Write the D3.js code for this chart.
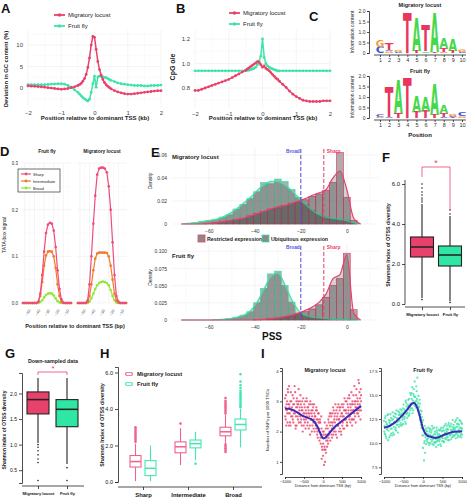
<!DOCTYPE html>
<html><head><meta charset="utf-8">
<script src="https://cdn.jsdelivr.net/npm/d3@7"></script>
<style>body{margin:0;background:#fff}svg{display:block}</style>
</head><body>
<svg id="fig" width="467" height="502"></svg>
<script>
// ---------------- DATA ----------------
// Panel A/B: position (kb) relative to dominant TSS
const posA=[-2,-1.9,-1.8,-1.7,-1.6,-1.5,-1.4,-1.3,-1.2,-1.1,-1,-0.9,-0.8,-0.7,-0.6,-0.5,-0.45,-0.4,-0.35,-0.3,-0.25,-0.2,-0.15,-0.1,-0.05,0,0.05,0.1,0.15,0.2,0.25,0.3,0.35,0.4,0.45,0.5,0.6,0.7,0.8,0.9,1,1.1,1.2,1.3,1.4,1.5,1.6,1.7,1.8,1.9,2];
const kbTicks=[-2,-1,0,1,2];
const gcLocust=[0.5,0.45,0.4,0.35,0.3,0.2,0.1,0.0,-0.1,-0.2,-0.3,-0.2,-0.1,0.1,0.3,0.6,0.8,1.1,1.6,2.2,3.2,4.8,7.0,10.0,12.0,11.8,9.0,6.2,4.3,3.0,2.0,1.3,0.8,0.4,0.1,-0.2,-0.6,-0.9,-1.1,-1.3,-1.4,-1.4,-1.3,-1.2,-1.1,-1.0,-0.9,-0.8,-0.7,-0.6,-0.6];
const gcFly=[0.8,0.8,0.8,0.8,0.8,0.8,0.85,0.9,0.95,1.0,1.0,0.9,0.6,0.2,-0.4,-1.0,-1.4,-1.8,-2.2,-2.5,-2.8,-3.0,-2.6,-1.0,1.0,2.8,0.2,2.6,2.8,2.7,2.6,2.5,2.4,2.2,2.0,1.8,1.5,1.2,1.0,0.9,0.8,0.7,0.6,0.6,0.6,0.5,0.5,0.6,0.6,0.6,0.7];
const cpgLocust=[0.78,0.78,0.79,0.80,0.81,0.82,0.83,0.84,0.85,0.86,0.87,0.885,0.90,0.915,0.93,0.945,0.955,0.965,0.975,0.985,0.995,1.005,1.015,1.01,0.99,0.97,0.98,0.96,0.95,0.94,0.925,0.91,0.895,0.88,0.87,0.855,0.83,0.805,0.775,0.75,0.73,0.715,0.70,0.695,0.69,0.69,0.69,0.69,0.695,0.695,0.695];
const cpgFly=[0.94,0.94,0.94,0.94,0.94,0.94,0.94,0.94,0.94,0.94,0.94,0.94,0.94,0.94,0.94,0.94,0.945,0.945,0.95,0.955,0.96,0.97,0.99,1.02,1.06,1.2,1.05,1.0,0.98,0.97,0.96,0.955,0.95,0.945,0.94,0.94,0.94,0.94,0.94,0.94,0.94,0.94,0.94,0.94,0.94,0.94,0.94,0.94,0.94,0.94,0.94];
const speciesNames=["Migratory locust","Fruit fly"];

// Panel C: sequence logos, per position stack [letter, bits] bottom->top
const logoLocust=[[["C",0.3],["G",0.33]],[["G",0.08],["C",0.08],["T",0.33]],[["C",0.05],["G",0.1]],[["T",1.9]],[["T",0.1],["A",1.55]],[["A",0.08],["T",1.25]],[["T",0.05],["A",1.85]],[["G",0.05],["T",0.2],["A",0.5]],[["T",0.1],["A",0.55]],[["C",0.05],["G",0.12]]];
const logoFly=[[["G",0.05],["C",0.12]],[["C",0.03],["T",1.43]],[["T",0.22],["A",1.55]],[["T",1.9]],[["T",0.3],["A",0.75]],[["T",0.35],["A",0.65]],[["T",0.15],["A",1.5]],[["C",0.05],["T",0.2],["A",0.35]],[["T",0.05],["C",0.05],["G",0.1]],[["G",0.08],["C",0.15]]];
const logoPositions=[1,2,3,4,5,6,7,8,9,10];

// Panel D: TATA-box signal
const posD=[-52,-50,-48,-46,-44,-42,-40,-38,-36,-34,-32,-30,-28,-26,-24,-22,-20,-18,-16,-14,-12,-10,-8,-6,-4,-2];
const dTicks=[-50,-40,-30,-20,-10];
const flySharp=[0,0,0,0,0,0,0,0,0.003,0.02,0.06,0.11,0.15,0.168,0.172,0.17,0.155,0.12,0.07,0.03,0.008,0.001,0,0,0,0];
const flyInter=[0,0,0,0,0,0,0,0,0.002,0.015,0.045,0.08,0.102,0.11,0.111,0.11,0.1,0.075,0.04,0.015,0.003,0,0,0,0,0];
const flyBroad=[0,0,0,0,0,0,0,0,0,0.002,0.006,0.012,0.017,0.02,0.021,0.02,0.016,0.01,0.004,0.001,0,0,0,0,0,0];
const locSharp=[0,0,0,0,0,0.005,0.04,0.1,0.17,0.23,0.275,0.288,0.29,0.29,0.288,0.28,0.25,0.2,0.13,0.06,0.015,0.003,0,0,0,0];
const locInter=[0,0,0,0,0,0.002,0.015,0.04,0.07,0.095,0.106,0.108,0.108,0.108,0.108,0.107,0.1,0.08,0.05,0.02,0.005,0.001,0,0,0,0];
const locBroad=[0,0,0,0,0,0,0.003,0.01,0.02,0.03,0.038,0.043,0.045,0.046,0.045,0.043,0.038,0.028,0.015,0.006,0.001,0,0,0,0,0];
const shapeNames=["Sharp","Intermediate","Broad"];

// Panel E: PSS histograms (bin centres, width 3)
const binsE=[-72,-69,-66,-63,-60,-57,-54,-51,-48,-45,-42,-39,-36,-33,-30,-27,-24,-21,-18,-15,-12,-9,-6,-3,0,3,6];
const locUbiq=[0,0.0005,0.001,0.002,0.003,0.004,0.006,0.008,0.013,0.017,0.022,0.028,0.036,0.035,0.039,0.037,0.030,0.023,0.017,0.012,0.008,0.006,0.004,0.004,0.003,0.0005,0];
const locRestr=[0,0,0,0,0.0005,0.001,0.002,0.003,0.004,0.005,0.007,0.009,0.011,0.013,0.014,0.016,0.018,0.019,0.021,0.024,0.026,0.029,0.036,0.062,0.023,0.003,0];
const locUbiqDens=[0,0.0005,0.001,0.002,0.003,0.004,0.006,0.009,0.013,0.018,0.023,0.029,0.034,0.037,0.037,0.034,0.029,0.023,0.017,0.012,0.008,0.006,0.005,0.004,0.003,0.001,0];
const locRestrDens=[0,0,0,0,0.0005,0.001,0.002,0.003,0.004,0.005,0.007,0.009,0.011,0.013,0.015,0.016,0.018,0.02,0.022,0.025,0.027,0.03,0.04,0.046,0.03,0.005,0];
const flyUbiq=[0,0,0,0,0,0.0005,0.001,0.002,0.004,0.007,0.012,0.025,0.046,0.067,0.071,0.05,0.026,0.01,0.005,0.003,0.002,0.002,0.001,0.001,0.0005,0,0];
const flyRestr=[0,0,0,0,0,0,0,0,0,0,0,0.0005,0.001,0.002,0.003,0.004,0.006,0.009,0.012,0.016,0.022,0.033,0.05,0.06,0.097,0.015,0];
const flyUbiqDens=[0,0,0,0,0,0.0005,0.001,0.002,0.004,0.007,0.013,0.026,0.045,0.063,0.068,0.052,0.03,0.014,0.007,0.004,0.003,0.002,0.001,0.001,0.0005,0,0];
const flyRestrDens=[0,0,0,0,0,0,0,0,0,0,0,0.0005,0.001,0.002,0.003,0.005,0.007,0.01,0.014,0.019,0.026,0.038,0.06,0.066,0.095,0.01,0];
const cutoffs=[{name:"Broad",v:-20},{name:"Sharp",v:-10}];

// Panel F/G boxplots: [low whisker, q1, median, q3, high whisker]
const boxF=[[0.3,2.35,2.85,3.35,5.0],[0.15,1.9,2.45,2.9,4.4]];
const outF=[[5.1,5.2,5.3,5.45,5.6,5.8,6.0,0.22],[4.5,4.7,0.08]];
const boxG=[[1.03,1.6,1.88,2.03,2.3],[0.62,1.35,1.69,1.88,2.3]];
const outG=[[1.0,0.95,0.88,0.8,0.72,0.65,0.3],[0.55,0.3]];
// Panel H: by TSC shape class
const boxHLocust=[[0.05,0.82,1.12,1.45,2.1],[0.93,1.6,1.93,2.2,2.95],[2.1,2.53,2.75,3.0,3.68]];
const boxHFly=[[0.05,0.35,0.75,1.17,2.0],[1.2,1.87,2.1,2.3,2.75],[1.9,2.85,3.15,3.45,4.0]];
const outHLocust=[[2.2,2.3,2.4,2.5,2.6,2.7,2.8,2.9,3.0],[3.2],[3.75,3.85,3.95,4.05,4.15,4.25,4.35,4.45,4.6,2.05,1.95,1.85,1.75,1.65]];
const outHFly=[[],[1.0],[4.1,4.2,4.3,4.4,4.5,4.6,4.7,4.8,4.9,5.0,5.15,5.3,5.5,5.9]];

// Panel I: SNP density, three interleaved rows (x step 20 bp)
const snpLoc1=[3.1,2.4,2.9,2.6,3.3,2.2,2.8,3.0,2.5,2.7,3.2,2.3,2.9,2.6,2.1,3.0,2.8,2.4,3.4,2.6,2.5,2.9,2.2,2.7,3.1,2.4,2.8,2.1,2.6,3.0,2.3,2.7,2.5,1.9,2.9,2.6,2.2,2.8,2.4,2.0,2.5,2.1,2.7,1.8,2.3,2.0,2.4,1.6,2.1,1.4,1.2,2.0,1.5,1.9,1.3,2.2,1.7,2.4,1.9,2.6,2.0,2.5,1.8,2.3,2.7,2.1,2.6,1.9,2.4,2.8,2.2,2.0,2.7,2.5,1.9,2.6,2.3,2.9,2.1,2.7,2.4,3.0,2.2,2.8,2.5,3.1,2.3,2.7,2.9,2.4,3.2,2.6,2.9,2.3,3.4,2.7,3.0,2.5,3.3,2.8,3.0];
const snpLoc2=[2.5,3.2,2.7,2.3,2.9,3.5,2.6,2.2,3.0,2.8,2.4,3.1,2.7,3.3,2.5,2.2,2.9,3.0,2.3,2.8,3.2,2.4,2.8,2.0,2.6,2.9,2.3,2.7,3.1,2.2,2.8,2.1,2.6,3.0,2.4,2.0,2.7,2.3,2.9,2.5,2.2,2.8,1.9,2.4,2.6,1.7,2.3,1.9,1.1,1.8,1.6,0.9,2.3,1.4,1.7,1.5,2.1,1.8,2.5,2.2,2.6,1.9,2.2,2.8,2.0,2.5,2.9,2.2,1.8,2.6,2.9,2.4,2.1,2.8,2.6,2.2,2.8,2.5,3.1,2.4,2.7,2.2,2.9,2.6,3.2,2.5,2.8,3.3,2.2,2.9,2.7,3.5,2.5,3.0,2.8,3.1,2.6,3.6,2.9,2.4,3.2];
const snpLoc3=[2.8,2.2,3.0,3.4,2.6,2.9,2.3,3.3,2.7,2.5,2.9,2.6,3.5,2.2,2.8,3.1,2.5,2.9,2.7,3.0,2.3,2.7,3.0,2.5,2.2,2.6,3.0,2.4,2.5,2.8,2.6,2.9,2.2,2.4,2.7,2.5,2.9,2.1,2.6,2.3,2.7,2.4,2.0,2.6,2.1,2.3,1.8,2.5,1.5,2.0,1.9,1.4,1.0,2.1,1.8,1.9,1.6,2.3,2.0,1.7,2.3,2.1,2.6,1.9,2.4,2.3,2.0,2.7,2.5,2.2,2.4,2.8,2.3,2.0,2.9,2.5,2.1,2.7,2.4,3.0,2.6,2.3,3.1,2.7,2.4,2.9,2.6,2.4,3.0,2.7,2.4,3.0,2.8,3.2,2.6,2.9,3.7,2.7,3.1,3.4,2.7];
const snpFly1=[12.3,11.0,12.8,10.5,11.9,13.0,11.3,12.1,10.8,12.6,11.5,13.2,12.0,10.9,12.7,11.6,13.4,12.2,11.1,12.9,12.4,13.5,11.8,13.1,12.6,14.0,12.5,13.3,12.0,13.8,13.2,14.5,12.9,13.7,14.1,15.2,13.6,14.4,15.6,13.9,14.8,13.7,15.4,14.0,13.3,13.8,12.4,13.0,11.6,12.2,9.5,11.4,10.2,11.0,9.9,11.2,10.1,10.9,9.8,11.5,10.4,11.3,9.9,10.8,11.6,10.0,10.9,9.6,11.1,10.3,11.4,10.2,10.8,9.7,11.2,10.5,11.6,10.1,11.0,12.0,10.6,11.5,10.3,12.1,10.9,11.8,10.4,11.3,12.4,10.7,11.6,12.2,10.5,11.1,12.6,10.8,11.9,11.3,12.3,10.6,11.5];
const snpFly2=[11.2,12.6,10.7,12.0,11.5,10.3,12.4,11.8,13.0,11.0,12.4,11.1,12.8,12.2,11.4,13.0,11.9,12.5,13.3,11.7,13.0,12.1,12.8,11.9,13.6,12.8,13.5,12.2,14.2,13.1,14.0,12.8,14.6,13.4,15.0,14.1,15.8,13.4,14.9,16.4,14.3,15.9,14.6,13.6,14.9,12.9,14.1,12.5,13.3,10.8,12.4,8.2,11.8,10.6,11.3,10.4,11.6,10.7,11.2,10.0,11.1,10.2,11.5,10.6,10.1,11.2,10.4,11.6,10.2,10.9,10.5,11.3,9.9,11.6,10.7,11.3,10.2,11.8,10.9,10.4,11.8,10.8,11.4,10.3,11.7,10.9,12.0,10.6,11.4,11.9,10.8,11.5,12.4,11.0,11.7,12.0,11.1,10.7,11.6,12.1,10.9];
const snpFly3=[11.8,10.9,12.2,11.4,12.9,11.7,10.6,12.3,11.5,12.0,10.8,12.5,11.7,13.1,12.1,11.3,12.6,11.9,12.3,13.2,11.9,12.9,13.4,12.4,12.0,13.2,12.7,14.4,13.0,12.6,13.5,13.9,13.1,15.2,13.6,14.6,13.1,15.1,14.2,14.8,13.9,14.4,16.8,14.2,13.7,14.5,13.4,11.9,12.7,11.5,10.8,10.0,9.0,11.5,10.3,10.9,10.5,10.0,11.4,10.8,10.7,11.8,10.4,9.8,11.0,10.6,10.1,11.3,10.7,9.8,10.9,10.4,11.4,10.6,10.2,10.8,11.3,10.5,11.1,11.4,11.2,10.6,11.9,11.0,10.8,11.4,11.0,11.7,10.8,11.5,11.3,10.9,11.7,12.0,10.6,11.4,12.4,11.6,10.9,11.3,12.0];
const snpXOffsets=[0,6,13];
const trendX=[-1000,-900,-800,-700,-600,-500,-400,-300,-200,-100,0,100,200,300,400,500,600,700,800,900,1000];
const trendLoc=[2.75,2.76,2.72,2.65,2.57,2.5,2.45,2.42,2.3,2.05,1.7,1.85,2.0,2.15,2.25,2.35,2.45,2.55,2.65,2.75,2.85];
const trendFly=[11.6,11.7,11.9,12.2,12.6,13.0,13.5,14.1,14.3,13.2,11.3,10.7,10.7,10.5,10.6,10.8,10.95,11.1,11.2,11.2,11.2];

// ---------------- DRAWING ----------------
const FONT="Liberation Sans, Arial, Helvetica, sans-serif";
const RED="#e8426b", GREEN="#3ee3a7", REDBOX="#e8416b", GREENBOX="#2fe6a4", PURPLE="#3b2ab5", BLUE="#5a4ee0";
const svg=d3.select("#fig").attr("font-family",FONT);
svg.append("rect").attr("width",467).attr("height",502).attr("fill","#fff");

function T(g,x,y,s,o){o=o||{};const t=g.append("text").attr("x",x).attr("y",y).text(s)
 .attr("font-size",o.s||6).attr("font-weight",o.b?"bold":null).attr("text-anchor",o.a||"start").attr("fill",o.f||"#222");
 if(o.r!=null)t.attr("transform",`rotate(${o.r},${x},${y})`);return t;}
function fixAxis(sel,fs,col,bold,noDomain){sel.attr("font-family",FONT).attr("font-size",fs);
 sel.selectAll("text").attr("fill",col||"#333").attr("font-weight",bold?"bold":null);
 sel.selectAll("line,path").attr("stroke","#222").attr("stroke-width",0.8);
 if(noDomain)sel.select(".domain").remove();}
function grid(g,x,y,xs,ys,col){
 const [x0,x1]=x.range(),[y0,y1]=y.range();
 xs.forEach(v=>g.append("line").attr("x1",x(v)).attr("x2",x(v)).attr("y1",y0).attr("y2",y1).attr("stroke",col).attr("stroke-width",0.5));
 ys.forEach(v=>g.append("line").attr("y1",y(v)).attr("y2",y(v)).attr("x1",x0).attr("x2",x1).attr("stroke",col).attr("stroke-width",0.5));}
function series(g,x,y,xs,vs,col,r,w){
 g.append("path").datum(vs).attr("d",d3.line().x((d,i)=>x(xs[i])).y(d=>y(d))).attr("fill","none").attr("stroke",col).attr("stroke-width",w||1.5);
 g.append("g").selectAll("circle").data(vs).join("circle").attr("cx",(d,i)=>x(xs[i])).attr("cy",d=>y(d)).attr("r",r||1.4).attr("fill",col);}

// panel letters
[["A",1,13],["B",176,13],["C",309,21],["D",0,156],["E",151,157],["F",382,162],["G",5,358],["H",100,358],["I",261,358]]
 .forEach(([s,x,y])=>T(svg,x,y,s,{s:13,b:1,f:"#111"}));

// ---- Panel A ----
{const g=svg.append("g");
 const x=d3.scaleLinear().domain([-2,2]).range([28,161]);
 const y=d3.scaleLinear().domain([-4.4,13.5]).range([107,30]);
 grid(g,x,y,[-1.5,-0.5,0.5,1.5],[-2.5,2.5,7.5,12.5],"#f5f5f5");
 grid(g,x,y,kbTicks,[0,5,10],"#e8e8e8");
 g.append("g").attr("transform","translate(0,107)").call(d3.axisBottom(x).tickValues(kbTicks).tickFormat(d3.format("d")).tickSize(0).tickPadding(4)).call(s=>fixAxis(s,6,"#444",false,true));
 g.append("g").attr("transform","translate(28,0)").call(d3.axisLeft(y).tickValues([0,5,10]).tickFormat(d3.format("d")).tickSize(0).tickPadding(5)).call(s=>fixAxis(s,6,"#444",false,true));
 series(g,x,y,posA,gcFly,GREEN);
 series(g,x,y,posA,gcLocust,RED);
 T(g,95,120,"Position relative to dominant TSS (kb)",{s:6,b:1,a:"middle"});
 T(g,8,69,"Deviation in GC content (%)",{s:5.8,b:1,a:"middle",r:-90});
 [[RED,15,speciesNames[0]],[GREEN,26,speciesNames[1]]].forEach(([c,yy,n])=>{
  g.append("line").attr("x1",54).attr("x2",65).attr("y1",yy).attr("y2",yy).attr("stroke",c).attr("stroke-width",1.8);
  g.append("circle").attr("cx",59.5).attr("cy",yy).attr("r",1.8).attr("fill",c);
  T(g,68,yy+2,n,{s:6});});}

// ---- Panel B ----
{const g=svg.append("g");
 const x=d3.scaleLinear().domain([-2,2]).range([195,330]);
 const y=d3.scaleLinear().domain([0.64,1.28]).range([107.6,29.2]);
 grid(g,x,y,[-1.5,-0.5,0.5,1.5],[0.7,0.9,1.1],"#f5f5f5");
 grid(g,x,y,kbTicks,[0.8,1.0,1.2],"#e8e8e8");
 g.append("g").attr("transform","translate(0,107.6)").call(d3.axisBottom(x).tickValues(kbTicks).tickFormat(d3.format("d")).tickSize(0).tickPadding(4)).call(s=>fixAxis(s,6,"#444",false,true));
 g.append("g").attr("transform","translate(195,0)").call(d3.axisLeft(y).tickValues([0.8,1.0,1.2]).tickFormat(d3.format(".1f")).tickSize(0).tickPadding(5)).call(s=>fixAxis(s,6,"#444",false,true));
 series(g,x,y,posA,cpgFly,GREEN);
 series(g,x,y,posA,cpgLocust,RED);
 T(g,263,120,"Position relative to dominant TSS (kb)",{s:6,b:1,a:"middle"});
 T(g,175,67,"CpG o/e",{s:7,b:1,a:"middle",r:-90});
 [[RED,13,speciesNames[0]],[GREEN,24,speciesNames[1]]].forEach(([c,yy,n])=>{
  g.append("line").attr("x1",229).attr("x2",240).attr("y1",yy).attr("y2",yy).attr("stroke",c).attr("stroke-width",1.8);
  g.append("circle").attr("cx",234.5).attr("cy",yy).attr("r",1.8).attr("fill",c);
  T(g,243,yy+2,n,{s:6});});}

// ---- Panel C ----
const logoCol={A:"#45d94a",T:"#e8365d",C:"#3355e8",G:"#f39a35"};
function letter(g,L,x0,w,yb,yt){ if(yb-yt<0.4)return;
 const t=g.append("text").text(L).attr("font-family","DejaVu Sans").attr("font-weight","bold").attr("font-size",100).attr("fill",logoCol[L]).attr("x",0).attr("y",0);
 const tw=t.node().getComputedTextLength();
 t.attr("transform",`translate(${x0},${yb}) scale(${w/tw},${(yb-yt)/72.9})`);}
function logo(stacks,y0,y1,title,titleY){
 const g=svg.append("g");
 const x=d3.scaleLinear().domain([1,10]).range([380,462]);
 const y=d3.scaleLinear().domain([0,2]).range([y0,y1]);
 g.append("g").attr("transform","translate(369,0)").call(d3.axisLeft(y).tickValues([0,0.5,1,1.5,2]).tickFormat(d=>d===0?"0":d3.format(".1f")(d)).tickSize(2).tickPadding(1.5)).call(s=>fixAxis(s,5,"#333"));
 const xa=g.append("g").attr("transform",`translate(0,${y0+2})`).call(d3.axisBottom(x).tickValues(logoPositions).tickFormat(d3.format("d")).tickSize(2).tickPadding(1.5)).call(s=>fixAxis(s,5.5,"#333"));
 xa.select(".domain").attr("d","M374,0H466");
 stacks.forEach((st,i)=>{let b=0;st.forEach(([L,h])=>{letter(g,L,x(logoPositions[i])-4.3,8.6,y(b),y(b+h));b+=h;});});
 T(g,420,titleY,title,{s:5.5,b:1,a:"middle"});
 T(g,354,(y0+y1)/2,"Information content",{s:5,a:"middle",r:-90});
}
logo(logoLocust,53,11,speciesNames[0],7);
logo(logoFly,118,76,speciesNames[1],73);
T(svg,420,137,"Position",{s:6,b:1,a:"middle"});

// ---- Panel D ----
{const g=svg.append("g");
 const y=d3.scaleLinear().domain([0,0.3]).range([303,163]);
 const cols=["#ee4d7a","#f07a28","#8fe83a"];
 const facets=[{x0:22,title:speciesNames[1],d:[flySharp,flyInter,flyBroad]},{x0:77,title:speciesNames[0],d:[locSharp,locInter,locBroad]}];
 facets.forEach(f=>{
  const x=d3.scaleLinear().domain([-53,-1]).range([f.x0,f.x0+50]);
  grid(g,x,y,[-45,-35,-25,-15,-5],[0.05,0.15,0.25],"#f6f6f6");
  grid(g,x,y,dTicks,[0,0.1,0.2,0.3],"#e8e8e8");
  const ax=g.append("g").attr("transform","translate(0,306)").call(d3.axisBottom(x).tickValues(dTicks).tickSize(0).tickPadding(3)).call(s=>fixAxis(s,4,"#555",false,true));
  ax.selectAll("text").attr("transform","rotate(-60)").attr("text-anchor","end").attr("dx","-1").attr("dy","4");
  [2,1,0].forEach(k=>series(g,x,y,posD,f.d[k],cols[k],1.3,1.2));
  T(g,f.x0+25,153,f.title,{s:4.8,b:1,a:"middle"});
 });
 g.append("g").attr("transform","translate(22,0)").call(d3.axisLeft(y).tickValues([0,0.1,0.2,0.3]).tickFormat(d3.format(".1f")).tickSize(0).tickPadding(4)).call(s=>fixAxis(s,4.5,"#333",false,true));
 T(g,75,328,"Position relative to dominant TSS (bp)",{s:5.5,b:1,a:"middle"});
 T(g,6,235,"TATA-box signal",{s:5,a:"middle",r:-90});
 g.append("rect").attr("x",18).attr("y",169).attr("width",42).attr("height",23).attr("fill","#fff").attr("stroke","#333").attr("stroke-width",0.7);
 shapeNames.forEach((n,k)=>{const yy=174+k*7;
  g.append("line").attr("x1",21).attr("x2",31).attr("y1",yy).attr("y2",yy).attr("stroke",cols[k]).attr("stroke-width",1.2);
  g.append("circle").attr("cx",26).attr("cy",yy).attr("r",1.4).attr("fill",cols[k]);
  T(g,33,yy+1.5,n,{s:4});});}

// ---- Panel E ----
{const x=d3.scaleLinear().domain([-76,14]).range([172,379]);
 function hist(top,bot,ymax,ticks,fmt,ubi,res,dU,dR,title,tY,labY){
  const g=svg.append("g");
  const y=d3.scaleLinear().domain([0,ymax]).range([bot,top]);
  grid(g,x,y,[-70,-50,-30,-10,10],[],"#f5f5f5");
  grid(g,x,y,[-60,-40,-20,0],ticks,"#e8e8e8");
  const bw=3;
  [[ubi,GREEN],[res,RED]].forEach(([arr,c])=>{
   g.append("g").selectAll("rect").data(arr).join("rect")
    .attr("x",(d,i)=>x(binsE[i]-bw/2)).attr("width",(d,i)=>x(binsE[i]+bw/2)-x(binsE[i]-bw/2))
    .attr("y",d=>y(d)).attr("height",d=>y(0)-y(d))
    .attr("fill","#7a7a7a").attr("fill-opacity",0.62).attr("stroke",c).attr("stroke-width",0.7);});
  [[dU,GREEN],[dR,RED]].forEach(([arr,c])=>{
   g.append("path").datum(arr).attr("d",d3.area().x((d,i)=>x(binsE[i])).y0(y(0)).y1(d=>y(d)).curve(d3.curveMonotoneX)).attr("fill","#333").attr("fill-opacity",0.22);
   g.append("path").datum(arr).attr("d",d3.line().x((d,i)=>x(binsE[i])).y(d=>y(d)).curve(d3.curveMonotoneX)).attr("fill","none").attr("stroke",c).attr("stroke-width",1.2);});
  cutoffs.forEach((cf,k)=>{const c=k?RED:BLUE;
   g.append("line").attr("x1",x(cf.v)).attr("x2",x(cf.v)).attr("y1",top+1).attr("y2",bot).attr("stroke",c).attr("stroke-width",1).attr("stroke-dasharray","4,2");
   T(g,k?x(cf.v)+3:x(cf.v)-1,labY,cf.name,{s:4.8,b:1,f:c,a:k?"start":"end"});});
  g.append("g").attr("transform",`translate(0,${bot})`).call(d3.axisBottom(x).tickValues([-60,-40,-20,0]).tickFormat(d3.format("d")).tickSize(0).tickPadding(5)).call(s=>fixAxis(s,5,"#333",false,true));
  g.append("g").attr("transform","translate(170,0)").call(d3.axisLeft(y).tickValues(ticks).tickFormat(fmt).tickSize(0).tickPadding(3)).call(s=>fixAxis(s,5,"#333",false,true));
  T(g,172,tY,title,{s:6,b:1});
  T(g,152,(top+bot)/2-5,"Density",{s:5,a:"middle",r:-90});
 }
 hist(148,224,0.066,[0,0.02,0.04,0.06],d=>d===0?"0":d3.format(".2f")(d),locUbiq,locRestr,locUbiqDens,locRestrDens,speciesNames[0],159,153);
 hist(245,320,0.109,[0,0.025,0.05,0.075,0.1],d=>d===0?"0":d3.format(".3f")(d),flyUbiq,flyRestr,flyUbiqDens,flyRestrDens,speciesNames[1],258,249);
 const lg=svg.append("g");
 [["Restricted expression",RED,198],["Ubiquitous expression",GREEN,262]].forEach(([n,c,xx])=>{
  lg.append("rect").attr("x",xx).attr("y",235).attr("width",7).attr("height",7).attr("fill","#8a8a8a").attr("stroke",c).attr("stroke-width",0.8);
  T(lg,xx+9,241,n,{s:5.3,b:1});});
 T(svg,272,340,"PSS",{s:10,b:1,a:"middle",f:"#111"});}

// ---- Boxplot helper ----
function box(g,y,cx,w,b,outs,fill,stroke,sw,r){
 g.append("line").attr("x1",cx).attr("x2",cx).attr("y1",y(b[0])).attr("y2",y(b[4])).attr("stroke",stroke).attr("stroke-width",sw);
 g.append("rect").attr("x",cx-w/2).attr("width",w).attr("y",y(b[3])).attr("height",y(b[1])-y(b[3])).attr("fill",fill).attr("stroke",stroke).attr("stroke-width",sw);
 g.append("line").attr("x1",cx-w/2).attr("x2",cx+w/2).attr("y1",y(b[2])).attr("y2",y(b[2])).attr("stroke",stroke).attr("stroke-width",sw*1.4);
 g.append("g").selectAll("circle").data(outs).join("circle").attr("cx",cx).attr("cy",d=>y(d)).attr("r",r||0.8).attr("fill",stroke);}

// ---- Panel F ----
{const g=svg.append("g");
 const y=d3.scaleLinear().domain([0,6.4]).range([304,176]);
 const x=d3.scalePoint().domain(speciesNames).range([422,450]);
 const ya=g.append("g").attr("transform","translate(405,0)").call(d3.axisLeft(y).tickValues([0,2,4,6]).tickSize(3).tickPadding(2)).call(s=>fixAxis(s,6,"#111"));
 ya.select(".domain").attr("d","M0,304.5V180");
 const xa=g.append("g").attr("transform","translate(0,307)").call(d3.axisBottom(x).tickSize(3).tickPadding(3)).call(s=>fixAxis(s,4.2,"#111",true));
 xa.select(".domain").attr("d","M405,0H465");
 speciesNames.forEach((n,i)=>box(g,y,x(n),23,boxF[i],outF[i],i?GREENBOX:REDBOX,"#222",1.1));
 g.append("path").attr("d",`M${x(speciesNames[0])},177V167H${x(speciesNames[1])}V210`).attr("fill","none").attr("stroke",RED).attr("stroke-width",0.8);
 T(g,436,166,"*",{s:9,f:RED,a:"middle"});
 T(g,390,245,"Shannon Index of OTSS diversity",{s:5.3,b:1,a:"middle",r:-90});}

// ---- Panel G ----
{const g=svg.append("g");
 const y=d3.scaleLinear().domain([0.25,2.4]).range([483,373]);
 const x=d3.scalePoint().domain(speciesNames).range([38,67]);
 g.append("g").attr("transform","translate(22,0)").call(d3.axisLeft(y).tickValues([0.5,1.0,1.5,2.0]).tickFormat(d3.format(".1f")).tickSize(3).tickPadding(2)).call(s=>fixAxis(s,5,"#111"));
 const xa=g.append("g").attr("transform","translate(0,486)").call(d3.axisBottom(x).tickSize(3).tickPadding(3)).call(s=>fixAxis(s,4.1,"#111",true));
 xa.select(".domain").attr("d","M22,0H84");
 speciesNames.forEach((n,i)=>box(g,y,x(n),22,boxG[i],outG[i],i?GREENBOX:REDBOX,"#222",1.1));
 g.append("path").attr("d",`M${x(speciesNames[0])},375V372H${x(speciesNames[1])}V375`).attr("fill","none").attr("stroke",RED).attr("stroke-width",0.8);
 T(g,53,371,"*",{s:8,f:RED,a:"middle"});
 T(g,53,363,"Down-sampled data",{s:5.3,b:1,a:"middle"});
 T(g,6,430,"Shannon index of OTSS diversity",{s:5,b:1,a:"middle",r:-90});}

// ---- Panel H ----
{const g=svg.append("g");
 const y=d3.scaleLinear().domain([0,6.3]).range([482,367]);
 const x=d3.scalePoint().domain(shapeNames).range([143,233]);
 g.append("g").attr("transform","translate(118,0)").call(d3.axisLeft(y).tickValues([0,2,4,6]).tickSize(3).tickPadding(2)).call(s=>fixAxis(s,5.5,"#111"));
 const xa=g.append("g").attr("transform","translate(0,487)").call(d3.axisBottom(x).tickSize(3).tickPadding(3)).call(s=>fixAxis(s,5.8,"#111",true));
 xa.select(".domain").attr("d","M118,0H262");
 const LC="#f0638c",FC="#45e6b4";
 shapeNames.forEach((n,i)=>{
  box(g,y,x(n)-7.5,11,boxHLocust[i],outHLocust[i],"#fff",LC,1.1,1.3);
  box(g,y,x(n)+7.5,11,boxHFly[i],outHFly[i],"#fff",FC,1.1,1.3);});
 [[LC,374,speciesNames[0]],[FC,384,speciesNames[1]]].forEach(([c,yy,n])=>{
  g.append("line").attr("x1",125).attr("x2",133).attr("y1",yy).attr("y2",yy).attr("stroke",c).attr("stroke-width",1.5);
  g.append("rect").attr("x",126).attr("y",yy-1.5).attr("width",6).attr("height",3).attr("fill","#fff").attr("stroke",c).attr("stroke-width",0.8);
  T(g,137,yy+2,n,{s:5.8,b:1});});
 T(g,104,425,"Shannon Index of OTSS diversity",{s:5.3,b:1,a:"middle",r:-90});}

// ---- Panel I ----
{function snp(x0,x1,axX,dom,ticks,fmt,rows,trend,col,title,tx){
  const g=svg.append("g");
  const x=d3.scaleLinear().domain([-1000,1000]).range([x0,x1]);
  const y=d3.scaleLinear().domain(dom).range([474,368]);
  g.append("g").attr("transform",`translate(${axX},0)`).call(d3.axisLeft(y).tickValues(ticks).tickFormat(fmt).tickSize(2).tickPadding(1.5)).call(s=>fixAxis(s,4.2,"#222"));
  g.append("g").attr("transform","translate(0,477)").call(d3.axisBottom(x).tickValues([-1000,-500,0,500,1000]).tickFormat(d3.format("d")).tickSize(2).tickPadding(1.5)).call(s=>fixAxis(s,4,"#222"));
  rows.forEach((arr,k)=>g.append("g").selectAll("circle").data(arr).join("circle")
   .attr("cx",(d,i)=>x(Math.min(1000,trendX[0]+20*i+snpXOffsets[k]))).attr("cy",d=>y(d)).attr("r",1.15).attr("fill",col).attr("fill-opacity",0.8));
  g.append("path").datum(trend).attr("d",d3.line().x((d,i)=>x(trendX[i])).y(d=>y(d)).curve(d3.curveBasis)).attr("fill","none").attr("stroke",PURPLE).attr("stroke-width",2);
  T(g,tx,372,title,{s:5.3,b:1,a:"middle"});
  T(g,(x0+x1)/2,487,"Distance from dominant TSS (bp)",{s:3.8,a:"middle"});}
 snp(285,361,282,[0.6,4.1],[1,2,3,4],d3.format("d"),[snpLoc1,snpLoc2,snpLoc3],trendLoc,RED,speciesNames[0],325);
 snp(384,462,381,[6.8,17.8],[7.5,10,12.5,15,17.5],d3.format(".1f"),[snpFly1,snpFly2,snpFly3],trendFly,GREEN,speciesNames[1],423);
 T(svg,269,420,"Number of SNPs per 1000 TSCs",{s:4.3,a:"middle",r:-90});}
</script>
</body></html>
